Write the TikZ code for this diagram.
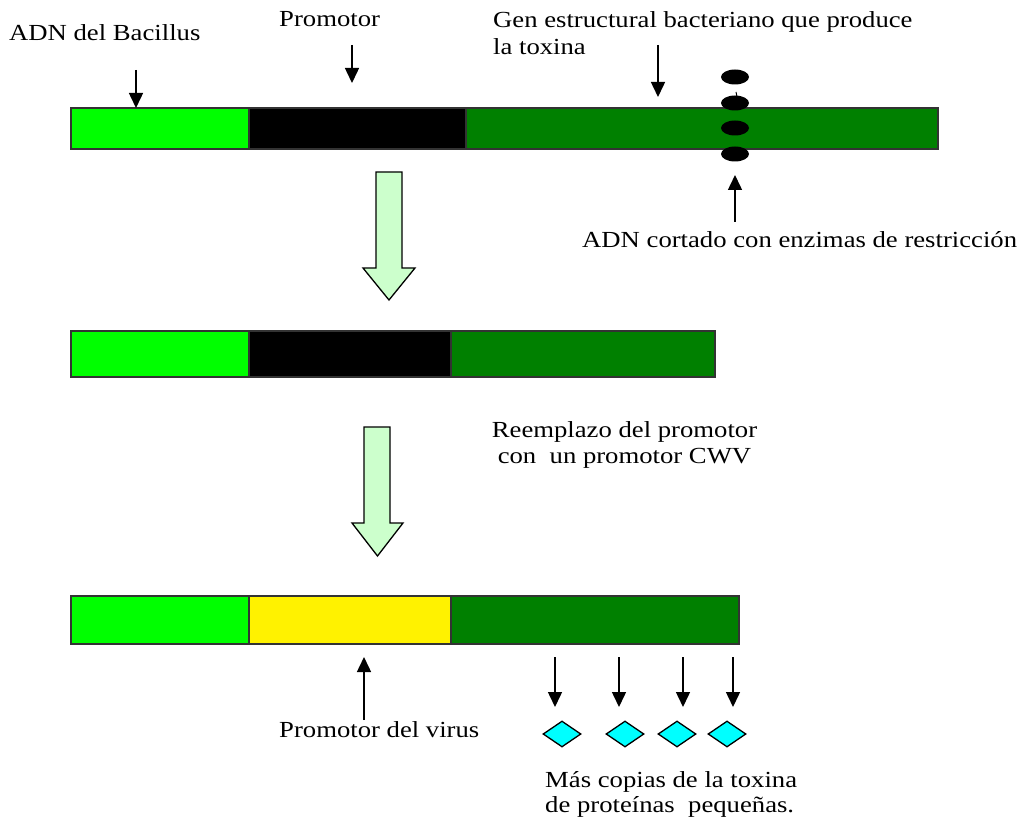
\documentclass[tikz,border=0pt]{standalone}
\usepackage{fontspec}
\setmainfont{Liberation Serif}
\usetikzlibrary{arrows.meta,shapes.geometric}
\definecolor{lgreen}{HTML}{00FF00}
\definecolor{dgreen}{HTML}{008000}
\definecolor{pale}{HTML}{CCFFCC}
\definecolor{cyanish}{HTML}{00FFFF}
\definecolor{edge}{HTML}{333333}
\newcommand{\lbl}[1]{\scalebox{1.16}[1]{#1}}
\begin{document}
\begin{tikzpicture}[x=1pt,y=-1pt,
 seg/.style={draw=edge,line width=1.3pt,anchor=north west,inner sep=0pt,outer sep=0pt},
 txt/.style={anchor=base west,inner sep=0pt,font=\fontsize{23}{27}\selectfont},
 ctxt/.style={anchor=base,inner sep=0pt,font=\fontsize{23}{27}\selectfont},
 arr/.style={line width=1.5pt,-{Triangle[width=14pt,length=15pt]}},
 cut/.style={ellipse,fill=black,minimum width=28pt,minimum height=15pt,inner sep=0pt},
 gem/.style={diamond,draw=black,line width=1.3pt,fill=cyanish,minimum width=38pt,minimum height=26pt,inner sep=0pt},
 big/.style={draw=black,line width=1.3pt,fill=pale}]
\useasboundingbox (0,0) rectangle (1017,834);

% bar 1
\node[seg,fill=lgreen,minimum width=178pt,minimum height=41pt] (b1a) at (71,108) {};
\node[seg,fill=black,minimum width=217pt,minimum height=41pt] (b1b) at (249,108) {};
\node[seg,fill=dgreen,minimum width=472pt,minimum height=41pt] (b1c) at (466,108) {};
% cut sites
\node[cut] (e1) at (735,77) {};
\node[cut] (e2) at (735,103) {};
\node[cut] (e3) at (735,128) {};
\node[cut] (e4) at (735,154) {};
\draw[line width=1pt] (736,92) -- (737,97);

% bar 2
\node[seg,fill=lgreen,minimum width=178pt,minimum height=46pt] (b2a) at (71,331) {};
\node[seg,fill=black,minimum width=202pt,minimum height=46pt] (b2b) at (249,331) {};
\node[seg,fill=dgreen,minimum width=264pt,minimum height=46pt] (b2c) at (451,331) {};

% bar 3
\node[seg,fill=lgreen,minimum width=178pt,minimum height=48pt] (b3a) at (71,596) {};
\node[seg,fill=yellow,minimum width=202pt,minimum height=48pt] (b3b) at (249,596) {};
\node[seg,fill=dgreen,minimum width=288pt,minimum height=48pt] (b3c) at (451,596) {};

% big arrows
\draw[big] (376,172) -- (402,172) -- (402,268) -- (415,268) -- (389,300) -- (363,268) -- (376,268) -- cycle;
\draw[big] (364,427) -- (390,427) -- (390,523) -- (403,523) -- (377.5,556) -- (352,523) -- (364,523) -- cycle;

% texts
\node[txt] (t1) at (9,41) {\lbl{ADN del Bacillus}};
\node[txt] (t2) at (279,27) {\lbl{Promotor}};
\node[txt] (t3) at (493,28) {\lbl{Gen estructural bacteriano que produce}};
\node[txt] (t3b) at (493,55) {\lbl{la toxina}};
\node[txt] (t4) at (582,248) {\lbl{ADN cortado con enzimas de restricción}};
\node[ctxt] (t5) at (624.5,437) {\lbl{Reemplazo del promotor}};
\node[ctxt] (t5b) at (624.5,463) {\lbl{con\ \ un promotor CWV}};
\node[txt] (t6) at (279,737) {\lbl{Promotor del virus}};
\node[txt] (t7) at (545,787) {\lbl{Más copias de la toxina}};
\node[txt] (t7b) at (545,812) {\lbl{de proteínas\ \ pequeñas.}};

% pointer arrows
\coordinate (s1) at (136,70);
\draw[arr] (s1) -- (s1 |- b1a.north);
\coordinate (s2) at (352,45);
\coordinate (s2e) at (352,83);
\draw[arr] (s2) -- (s2e);
\coordinate (s3) at (658,45);
\coordinate (s3e) at (658,97);
\draw[arr] (s3) -- (s3e);
\coordinate (s4) at (735,222);
\coordinate (s4e) at (735,175);
\draw[arr] (s4) -- (s4e);
\coordinate (s5) at (364,720);
\coordinate (s5e) at (364,657);
\draw[arr] (s5) -- (s5e);

% toxin copies
\node[gem] (d1) at (562,734) {};
\node[gem] (d2) at (625,734) {};
\node[gem] (d3) at (677,734) {};
\node[gem] (d4) at (727,734) {};
\coordinate (u1) at (555,657);
\coordinate (u2) at (619,657);
\coordinate (u3) at (683,657);
\coordinate (u4) at (733,657);
\draw[arr] (u1) -- (555,707);
\draw[arr] (u2) -- (619,707);
\draw[arr] (u3) -- (683,707);
\draw[arr] (u4) -- (733,707);
\end{tikzpicture}
\end{document}
